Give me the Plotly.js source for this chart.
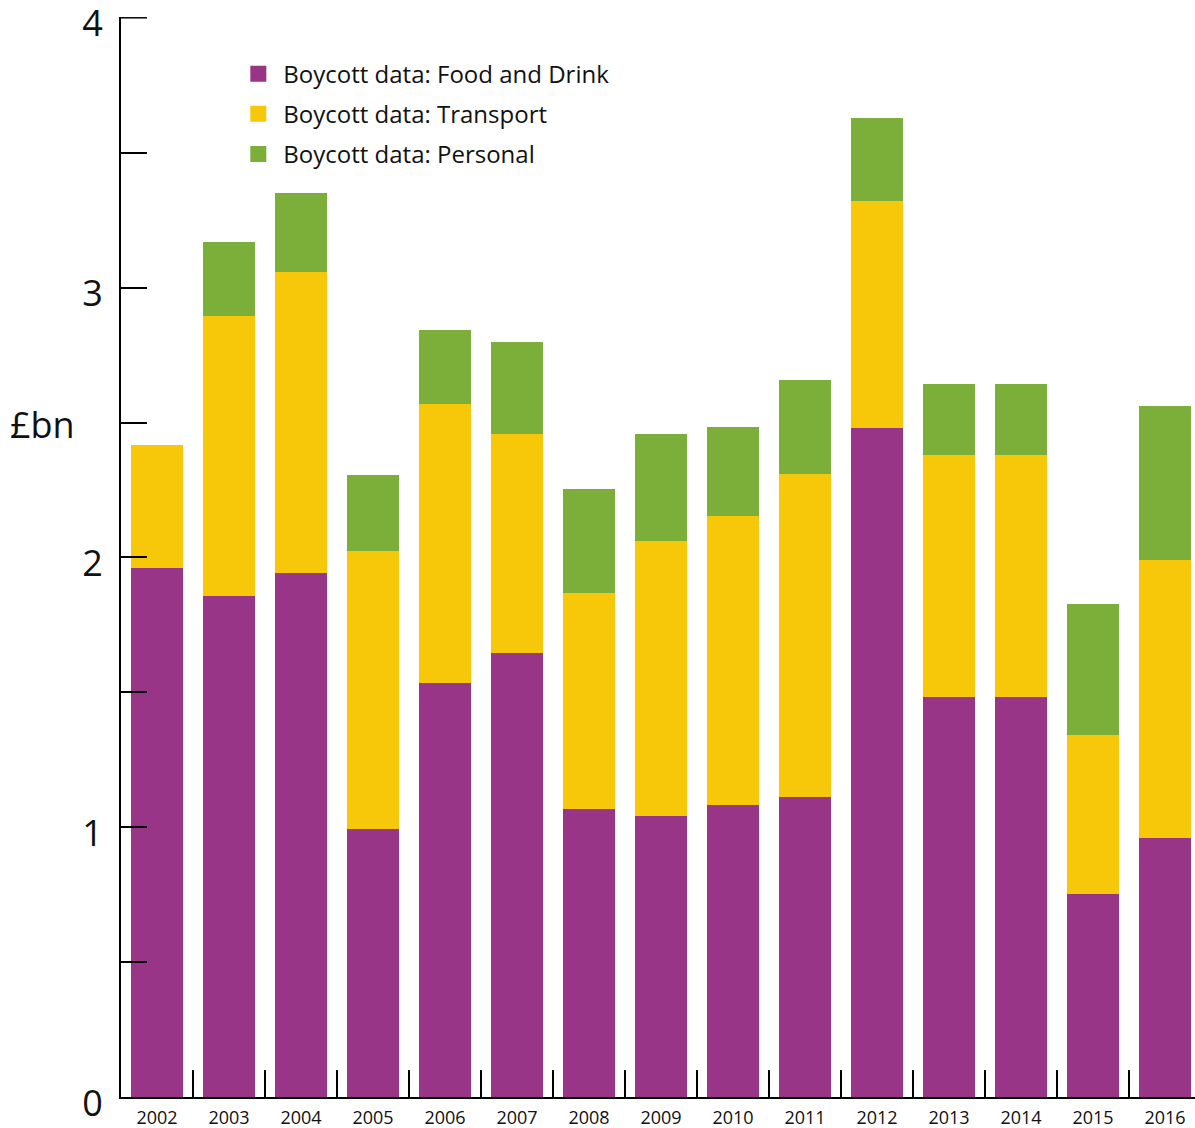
<!DOCTYPE html>
<html>
<head>
<meta charset="utf-8">
<script src="https://cdn.plot.ly/plotly-3.0.1.min.js"></script>
<style>html,body{margin:0;padding:0;overflow:hidden;background:#fff;}</style>
</head>
<body>
<div id="chart"></div>
<script>
const years = ['2002','2003','2004','2005','2006','2007','2008','2009','2010','2011','2012','2013','2014','2015','2016'];
const foodDrink = [1.96, 1.856, 1.944, 0.993, 1.533, 1.644, 1.067, 1.041, 1.081, 1.111, 2.478, 1.481, 1.481, 0.752, 0.959];
const transport = [0.455, 1.04, 1.115, 1.029, 1.034, 0.815, 0.80, 1.018, 1.071, 1.20, 0.844, 0.897, 0.897, 0.589, 1.03];
const personal = [0, 0.274, 0.293, 0.282, 0.277, 0.341, 0.385, 0.40, 0.333, 0.345, 0.308, 0.263, 0.263, 0.485, 0.574];
const seriesNames = ['Boycott data: Food and Drink', 'Boycott data: Transport', 'Boycott data: Personal'];
const yTicks = [0, 1, 2, 3, 4];
const yMax = 4;

const colors = ['#993587', '#F7C70A', '#7BAF3A'];
const font = 'Open Sans, Noto Sans, sans-serif';
const seriesData = [foodDrink, transport, personal];

const traces = seriesData.map((vals, i) => ({
  type: 'bar',
  x: years,
  y: vals,
  name: seriesNames[i],
  legendgroup: 'g' + i,
  showlegend: false,
  marker: {color: colors[i], line: {width: 0}},
  hoverinfo: 'x+y+name'
}));
// legend entries (larger square swatches)
seriesNames.forEach((n, i) => {
  traces.push({
    type: 'scatter', mode: 'markers', x: [null], y: [null],
    name: n, legendgroup: 'g' + i, showlegend: true,
    marker: {symbol: 'square', size: 20, color: colors[i], line: {width: 0}},
    hoverinfo: 'skip'
  });
});

const layout = {
  width: 1201,
  height: 1128,
  margin: {l: 121, r: 0, t: 17, b: 31},
  barmode: 'stack',
  bargap: 0.28,
  plot_bgcolor: '#fff',
  paper_bgcolor: '#fff',
  font: {family: font, color: '#111'},
  showlegend: true,
  legend: {
    x: 0.104, y: 0.968, xanchor: 'left', yanchor: 'top',
    traceorder: 'grouped',
    tracegroupgap: 6,
    itemwidth: 40,
    font: {size: 24, family: font, color: '#111'},
    bgcolor: 'rgba(0,0,0,0)'
  },
  xaxis: {
    type: 'category',
    range: [-0.5, 14.5],
    showline: true, linecolor: '#000', linewidth: 2,
    ticks: 'inside', tickson: 'boundaries', ticklen: 27, tickwidth: 1.5, tickcolor: '#000',
    ticklabelstandoff: 3,
    tickfont: {size: 18, family: font, color: '#111'},
    showgrid: false, zeroline: false, fixedrange: true
  },
  yaxis: {
    range: [0, yMax + 0.003],
    tickvals: yTicks,
    ticktext: yTicks.map(String),
    showline: true, linecolor: '#000', linewidth: 2,
    ticks: 'inside', ticklen: 26, tickwidth: 1.5, tickcolor: '#000',
    ticklabelstandoff: 9,
    ticklabelshift: 6,
    ticklabeloverflow: 'allow',
    minor: {dtick: 0.5, ticks: 'inside', ticklen: 26, tickwidth: 1.5, tickcolor: '#000', showgrid: false},
    tickfont: {size: 36, family: font, color: '#111'},
    showgrid: false, zeroline: false, fixedrange: true
  },
  shapes: [{
    type: 'line', xref: 'paper', xsizemode: 'pixel', xanchor: 0, x0: 0, x1: 26,
    yref: 'y', y0: yMax, y1: yMax, line: {color: '#000', width: 1.5}
  }],
  annotations: [{
    text: '£bn', xref: 'paper', yref: 'paper', x: -0.073, y: 0.623,
    xanchor: 'center', yanchor: 'middle', showarrow: false,
    font: {size: 36, family: font, color: '#111'}
  }]
};

Plotly.newPlot('chart', traces, layout, {displayModeBar: false, staticPlot: false});
</script>
</body>
</html>
